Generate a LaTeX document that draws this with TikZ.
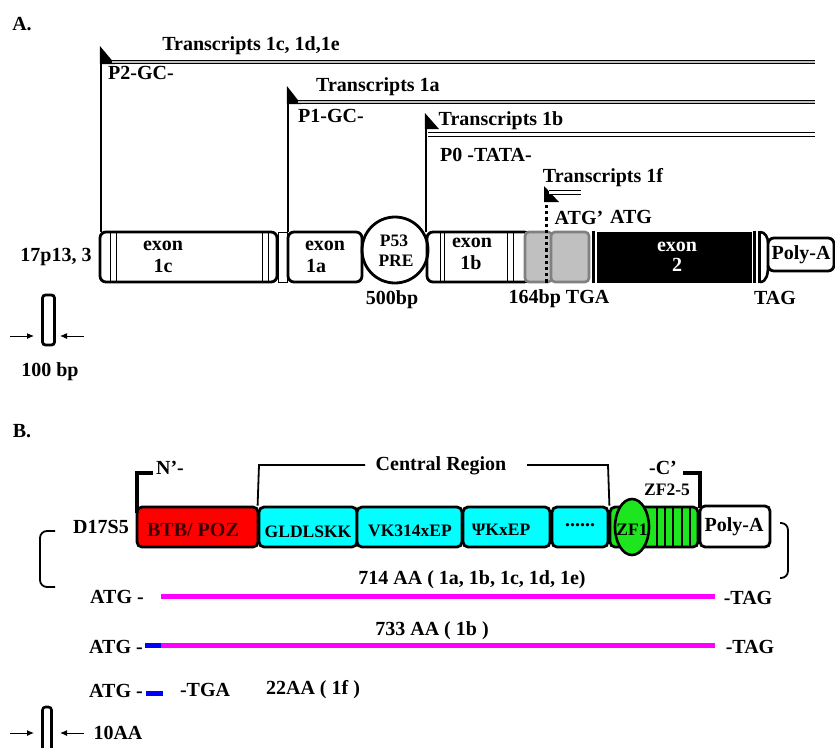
\documentclass[tikz,border=0pt]{standalone}
\usepackage{fontspec}
\setmainfont{Liberation Serif}
\usetikzlibrary{shapes.geometric,arrows.meta}
\definecolor{gfill}{RGB}{192,192,192}
\definecolor{gdraw}{RGB}{128,128,128}
\definecolor{zfgreen}{RGB}{30,230,30}
\definecolor{magen}{RGB}{255,0,255}
\definecolor{bblue}{RGB}{0,0,255}
\definecolor{cyanb}{RGB}{0,255,255}
\definecolor{redb}{RGB}{255,0,0}
\begin{document}
\begin{tikzpicture}[x=1pt,y=-1pt,
  t/.style={font=\fontsize{20}{22}\selectfont\bfseries, inner sep=0pt},
  ts/.style={font=\fontsize{17.5}{19}\selectfont\bfseries, inner sep=0pt},
  box/.style={draw, line width=2.8pt, rounded corners=6pt, inner sep=0pt},
  dbox/.style={draw, line width=2.8pt, rounded corners=5pt, inner sep=0pt, minimum height=40pt},
  band/.style={line width=1pt},
  prom/.style={line width=2.2pt},
  txg/.style={line width=1pt, double=gfill, double distance=2.4pt},
  txw/.style={line width=1pt, double=white, double distance=2.2pt},
  brk/.style={line width=3.2pt},
  sarrow/.style={line width=1pt, -{Latex[length=7pt,width=6pt]}},
  aa/.style={line width=5pt}
]
\useasboundingbox (0,0) rectangle (835,747);

% ---------------- Panel A ----------------
\node[t] (labA) at (22,24) {A.};

% exon strip
\node[box, minimum width=177pt, minimum height=50pt] (e1c) at (188.5,257) {};
\draw[band] (110,232) -- (110,282) (116,232) -- (116,282) (262,232) -- (262,282) (268,232) -- (268,282);
\node[draw, band, minimum width=9pt, minimum height=50pt, inner sep=0pt] (lnk) at (282.5,257) {};
\node[box, minimum width=74pt, minimum height=50pt] (e1a) at (325,257) {};
\node[draw, circle, line width=2.8pt, minimum size=66pt, inner sep=0pt] (pre) at (395,250) {};
\node[box, minimum width=103pt, minimum height=50pt] (e1b) at (478.5,257) {};
\draw[band] (440,232) -- (440,282) (444,232) -- (444,282) (507,232) -- (507,282) (513,232) -- (513,282);
\node[draw=gdraw, fill=gfill, line width=2.6pt, rounded corners=4pt, minimum width=27pt, minimum height=50pt, inner sep=0pt] (g1) at (538.5,257) {};
\node[draw=gdraw, fill=gfill, line width=2.6pt, rounded corners=4pt, minimum width=38pt, minimum height=50pt, inner sep=0pt] (g2) at (570,257) {};
\fill (592,231) rectangle (595,283);
\node[fill=black, minimum width=155pt, minimum height=51pt, inner sep=0pt] (e2) at (674.5,257) {};
\fill (753,231) rectangle (756,283);
\fill (758,231) rectangle (761,283);
\node[box, minimum width=66pt, minimum height=33pt] (pa) at (801,254.5) {};
\draw[line width=2.6pt] (760,232) to[out=0,in=90] (768,243);
\draw[line width=2.6pt] (760,282) to[out=0,in=-90] (768,266);

% promoters / transcripts
\coordinate (p2b) at (101,232); \coordinate (p2t) at (101,50);
\draw[prom] (p2b) -- (p2t);
\fill (99.9,46) -- (99.9,64) -- (115,64) -- cycle;
\coordinate (t2s) at (112,62); \coordinate (t2e) at (815,62);
\draw[txg] (t2s) -- (t2e);
\node[t] (tr1c) at (251,46) {Transcripts 1c, 1d,1e};
\node[t] (p2) at (141,73) {P2-GC-};

\coordinate (p1b) at (288,232); \coordinate (p1t) at (288,90);
\draw[prom] (p1b) -- (p1t);
\fill (286.9,86) -- (286.9,104) -- (301,104) -- cycle;
\coordinate (t1s) at (298,102); \coordinate (t1e) at (815,102);
\draw[txg] (t1s) -- (t1e);
\node[t] (tr1a) at (378,87) {Transcripts 1a};
\node[t] (p1) at (331,116) {P1-GC-};

\coordinate (p0b) at (426,232); \coordinate (p0t) at (426,118);
\draw[prom] (p0b) -- (p0t);
\fill (424.9,113) -- (424.9,129) -- (439,129) -- cycle;
\coordinate (t0s) at (428,134.5); \coordinate (t0e) at (815,134.5);
\draw[txw] (t0s) -- (t0e);
\node[t] (tr1b) at (501,121) {Transcripts 1b};
\node[t] (p0) at (486,155) {P0 -TATA-};

\node[t] (tr1f) at (603,178) {Transcripts 1f};
\fill (544,186) -- (544,202) -- (559,202) -- cycle;
\coordinate (tfs) at (549,192.5); \coordinate (tfe) at (581,192.5);
\draw[txw] (tfs) -- (tfe);
\coordinate (dtop) at (546.5,205); \coordinate (dbot) at (546.5,283);
\draw[line width=3.2pt, dash pattern=on 3.2pt off 3pt] (dtop) -- (dbot);
\node[t] (atgp) at (579,218) {ATG’};
\node[t] (atg) at (631,217) {ATG};

% texts in strip
\node[t] (s17) at (56,257) {17p13, 3};
\node[t] (x1c) at (163,246) {exon};
\node[t] (n1c) at (163,266) {1c};
\node[t] (x1a) at (325,246) {exon};
\node[t] (n1a) at (316,266) {1a};
\node[ts] (p53) at (394,241) {P53};
\node[ts] (pret) at (396,261) {PRE};
\node[t] (bp500) at (392,300) {500bp};
\node[t] (x1b) at (472,243) {exon};
\node[t] (n1b) at (471,263) {1b};
\node[t, text=white] (x2) at (677,247) {exon};
\node[t, text=white] (n2) at (677,265) {2};
\node[t] (pat) at (801,255) {Poly-A};
\node[t] (tga) at (559,299) {164bp TGA};
\node[t] (tag) at (775,298) {TAG};

% scale bar A
\node[draw, line width=2.8pt, rounded corners=3pt, minimum width=12pt, minimum height=50pt, inner sep=0pt] (sbA) at (48.5,320) {};
\coordinate (a1s) at (10,336); \coordinate (a1e) at (34,336);
\coordinate (a2s) at (84,336); \coordinate (a2e) at (60,336);
\draw[sarrow] (a1s) -- (a1e);
\draw[sarrow] (a2s) -- (a2e);
\node[t] (bp100) at (50,372) {100 bp};

% ---------------- Panel B ----------------
\node[t] (labB) at (22,431) {B.};

\node[dbox, fill=redb, minimum width=121pt] (btb) at (197.5,527) {};
\node[dbox, fill=cyanb, minimum width=98pt] (gld) at (308,527) {};
\node[dbox, fill=cyanb, minimum width=105pt] (vk) at (409.5,527) {};
\node[dbox, fill=cyanb, minimum width=87pt] (psi) at (506.5,527) {};
\node[dbox, fill=cyanb, minimum width=56pt] (dots) at (580,527) {};
\node[dbox, fill=zfgreen, minimum width=88pt] (zf) at (654,527) {};
\draw[line width=1.8pt] (657,507) -- (657,547) (665,507) -- (665,547) (673,507) -- (673,547) (682,507) -- (682,547) (690,507) -- (690,547);
\node[draw, ellipse, fill=zfgreen, line width=2.6pt, minimum width=34pt, minimum height=56pt, inner sep=0pt] (zf1) at (632,527) {};
\node[dbox, fill=white, minimum width=70pt, minimum height=41pt] (pab) at (735,526.5) {};

\node[t, text={rgb,255:red,60;green,0;blue,0}] (btbt) at (193,530) {BTB/ POZ};
\node[ts] (gldt) at (308,532) {GLDLSKK};
\node[ts] (vkt) at (410,531) {VK314xEP};
\node[ts] (psit) at (501,530) {ΨKxEP};
\node[t] (dotst) at (580,525) {......};
\node[ts] (zf1t) at (632,530) {ZF1};
\node[t] (pabt) at (734,527) {Poly-A};

% brackets
\coordinate (n1) at (137,513); \coordinate (n2) at (137,473); \coordinate (n3) at (153,473);
\draw[brk] (n1) -- (n2) -- (n3);
\node[t] (nlab) at (170,468) {N’-};
\coordinate (c1) at (683,473); \coordinate (c2) at (700,473); \coordinate (c3) at (700,508);
\draw[brk] (c1) -- (c2) -- (c3);
\node[t] (clab) at (663,468) {-C’};
\node[ts] (zf25) at (667,490) {ZF2-5};
\node[t] (cent) at (441,466) {Central Region};
\draw[line width=1.8pt] (gld.north west) -- (259,465) -- (365,465);
\draw[line width=1.8pt] (527,465) -- (608,465) -- (dots.north east);

\node[t] (d17) at (101,527) {D17S5};
\draw[line width=1.8pt, rounded corners=7pt] (55,531) -- (40,531) -- (40,587) -- (55,587);
\draw[line width=1.8pt, rounded corners=7pt] (780,523) -- (788,523) -- (788,578) -- (780,578);

% protein lines
\node[t] (atg1) at (117,597) {ATG -};
\node[t] (aa714) at (472,580) {714 AA ( 1a, 1b, 1c, 1d, 1e)};
\node[t] (tag1) at (748,598) {-TAG};
\coordinate (m1s) at (161,596); \coordinate (m1e) at (715,596);
\draw[aa, magen] (m1s) -- (m1e);

\node[t] (atg2) at (116,647) {ATG -};
\node[t] (aa733) at (432,631) {733 AA ( 1b )};
\node[t] (tag2) at (750,647) {-TAG};
\coordinate (b2s) at (145,645); \coordinate (m2s) at (161,645); \coordinate (m2e) at (715,645);
\draw[aa, bblue] (b2s) -- (m2s);
\draw[aa, magen] (m2s) -- (m2e);

\node[t] (atg3) at (116,691) {ATG -};
\coordinate (b3s) at (146,693); \coordinate (b3e) at (163,693);
\draw[aa, bblue] (b3s) -- (b3e);
\node[t] (tga3) at (205,690) {-TGA};
\node[t] (aa22) at (313,690) {22AA ( 1f )};

% scale bar B
\node[draw, line width=2.6pt, rounded corners=3pt, minimum width=9pt, minimum height=50pt, inner sep=0pt] (sbB) at (47,732) {};
\coordinate (b1s) at (10,733); \coordinate (b1e) at (34,733);
\coordinate (b2a) at (84,733); \coordinate (b2b) at (60,733);
\draw[sarrow] (b1s) -- (b1e);
\draw[sarrow] (b2a) -- (b2b);
\node[t] (aa10) at (118,733) {10AA};
\end{tikzpicture}
\end{document}
